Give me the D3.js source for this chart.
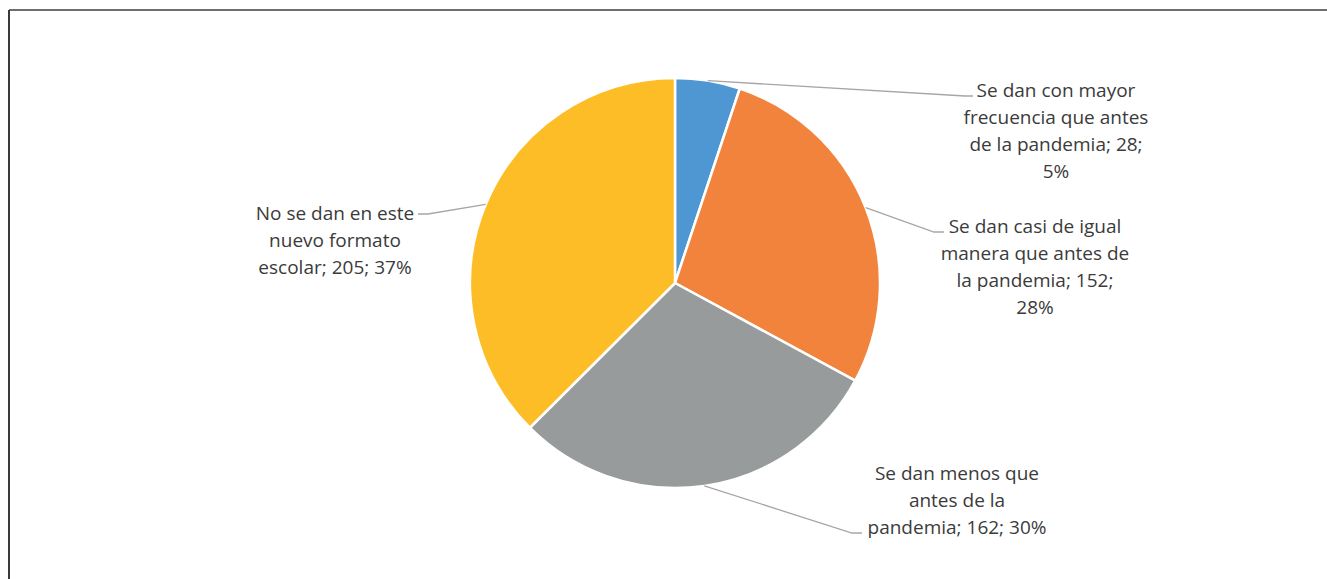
<!DOCTYPE html>
<html>
<head>
<meta charset="utf-8">
<script src="https://cdn.jsdelivr.net/npm/d3@7"></script>
<style>
  html, body { margin: 0; padding: 0; background: #fff; }
  svg { display: block; }
  text { font-family: "Open Sans", "Noto Sans", sans-serif; fill: #3b3b3b; }
</style>
</head>
<body>
<svg id="chart" width="1327" height="579"></svg>
<script>
// Survey responses
const categories = [
  "Se dan con mayor frecuencia que antes de la pandemia",
  "Se dan casi de igual manera que antes de la pandemia",
  "Se dan menos que antes de la pandemia",
  "No se dan en este nuevo formato escolar"
];
const counts = [28, 152, 162, 205];
const percents = ["5%", "28%", "30%", "37%"];
// Label text broken into lines as drawn
const labelLines = [
  ["Se dan con mayor", "frecuencia que antes", "de la pandemia; 28;", "5%"],
  ["Se dan casi de igual", "manera que antes de", "la pandemia; 152;", "28%"],
  ["Se dan menos que", "antes de la", "pandemia; 162; 30%"],
  ["No se dan en este", "nuevo formato", "escolar; 205; 37%"]
];
const colors = ["#4E97D3", "#F2833C", "#989B9C", "#FDBD27"];

const svg = d3.select("#chart");

// Outer frame (top and left edges)
svg.append("line").attr("x1", 9).attr("x2", 1327).attr("y1", 10).attr("y2", 10)
  .attr("stroke", "#6e6e6e").attr("stroke-width", 2);
svg.append("line").attr("x1", 9).attr("x2", 9).attr("y1", 10).attr("y2", 579)
  .attr("stroke", "#3a3a3a").attr("stroke-width", 2);

const cx = 675, cy = 283, r = 205;
const g = svg.append("g").attr("transform", `translate(${cx},${cy})`);

const data = categories.map((c, i) => ({ name: c, value: counts[i], i }));
const pie = d3.pie().value(d => d.value).sort(null);
const arc = d3.arc().innerRadius(0).outerRadius(r);
const arcs = pie(data);

g.selectAll("path.slice").data(arcs).join("path")
  .attr("class", "slice")
  .attr("d", arc)
  .attr("fill", d => colors[d.data.i])
  .attr("stroke", "#fff")
  .attr("stroke-width", 2.5)
  .attr("stroke-linejoin", "round");

// Label placement: text block centre and first-line y, leader bend and end
const labelLayout = [
  { x: 1056, y: 90, bend: [965, 96], end: [973, 96] },
  { x: 1035, y: 226, bend: [934, 232], end: [944, 232] },
  { x: 957, y: 473, bend: [852, 533], end: [862, 533] },
  { x: 335, y: 213, bend: [428, 214], end: [418, 214] }
];
const lineH = 27;

arcs.forEach((a, k) => {
  const L = labelLayout[k];
  // leader starts on the rim at the slice's mid-angle
  const ang = (a.startAngle + a.endAngle) / 2;
  const ax = cx + r * Math.sin(ang);
  const ay = cy - r * Math.cos(ang);
  svg.append("polyline")
    .attr("points", [[ax, ay], L.bend, L.end].map(p => p.join(",")).join(" "))
    .attr("fill", "none")
    .attr("stroke", "#a6a6a6")
    .attr("stroke-width", 1.3);

  const t = svg.append("text")
    .attr("text-anchor", "middle")
    .attr("font-size", 19);
  labelLines[k].forEach((ln, j) => {
    t.append("tspan")
      .attr("x", L.x)
      .attr("y", L.y + j * lineH)
      .attr("dominant-baseline", "central")
      .text(ln);
  });
});
</script>
</body>
</html>
